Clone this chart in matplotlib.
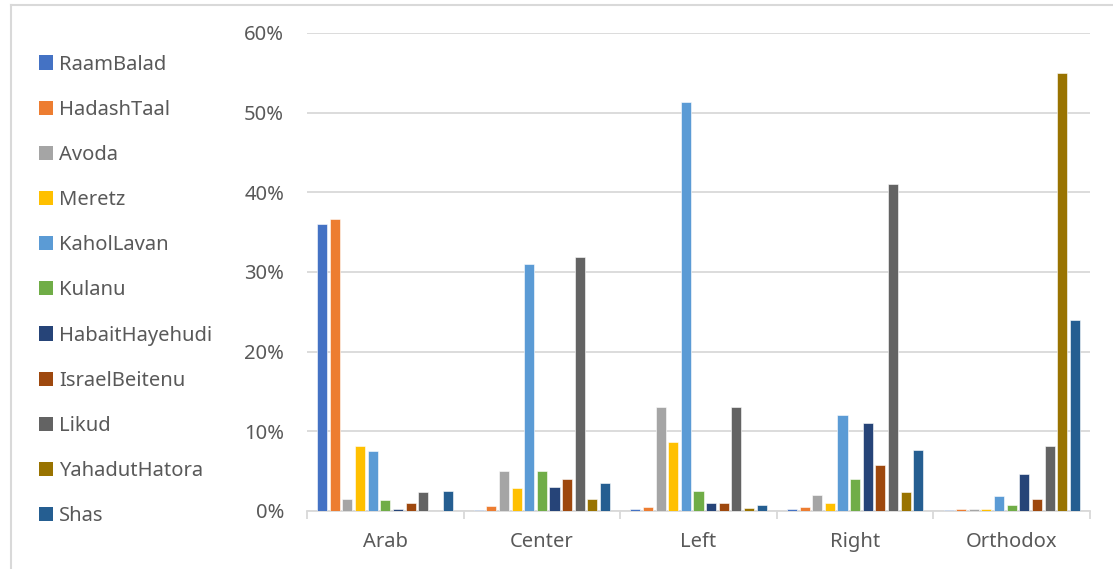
import matplotlib
matplotlib.use('Agg')
import matplotlib.pyplot as plt
import numpy as np
from matplotlib.patches import Patch
from matplotlib.lines import Line2D
from matplotlib.ticker import FuncFormatter, FixedLocator

plt.rcParams['font.family'] = ['Noto Sans', 'DejaVu Sans']

groups = ['Arab', 'Center', 'Left', 'Right', 'Orthodox']
parties = ['RaamBalad', 'HadashTaal', 'Avoda', 'Meretz', 'KaholLavan', 'Kulanu',
           'HabaitHayehudi', 'IsraelBeitenu', 'Likud', 'YahadutHatora', 'Shas']
colors = ['#4472C4', '#ED7D31', '#A5A5A5', '#FFC000', '#5B9BD5', '#70AD47',
          '#264478', '#9E480E', '#636363', '#997300', '#255E91']

# share of votes per party (fraction), one list per group
arab = [0.360, 0.366, 0.015, 0.081, 0.075, 0.014, 0.003, 0.010, 0.024, 0.000, 0.025]
center = [0.001, 0.006, 0.050, 0.029, 0.310, 0.050, 0.030, 0.040, 0.319, 0.015, 0.035]
left = [0.002, 0.005, 0.130, 0.086, 0.514, 0.025, 0.010, 0.010, 0.130, 0.004, 0.008]
right = [0.002, 0.005, 0.020, 0.010, 0.120, 0.040, 0.110, 0.058, 0.410, 0.024, 0.076]
orthodox = [0.001, 0.003, 0.003, 0.003, 0.019, 0.007, 0.046, 0.015, 0.081, 0.550, 0.240]

data = np.array([arab, center, left, right, orthodox])

txt = '#595959'
grid = '#D9D9D9'
fs = 14.5

fig = plt.figure(figsize=(11.13, 5.69), dpi=100)
ax = fig.add_axes([307/1113, 1 - 511/569, 783/1113, 478/569])

slot = 0.0805
bw = 0.064
x = np.arange(len(groups)) + 0.5
for j, p in enumerate(parties):
    ax.bar(x + (j - 5) * slot, data[:, j], bw, color=colors[j],
           edgecolor='white', linewidth=0.4, label=p, zorder=3)

ax.set_xlim(0, 5)
ax.set_ylim(0, 0.6)
ax.set_yticks(np.arange(0, 0.61, 0.1))
ax.yaxis.set_major_formatter(FuncFormatter(lambda v, _: '%d%%' % round(v * 100)))
ax.grid(axis='y', color=grid, linewidth=1.3, zorder=0)

ax.xaxis.set_major_locator(FixedLocator(np.arange(0, 6)))
ax.xaxis.set_minor_locator(FixedLocator(x))
ax.set_xticklabels([])
ax.set_xticklabels(groups, minor=True)
ax.tick_params(axis='x', which='major', length=6, color=grid, width=1.3, direction='out')
ax.tick_params(axis='x', which='minor', length=0, pad=15, labelsize=fs, labelcolor=txt)
ax.tick_params(axis='y', length=0, pad=16.5, labelsize=fs, labelcolor=txt)

for s in ['top', 'right', 'left']:
    ax.spines[s].set_visible(False)
ax.spines['bottom'].set_color(grid)
ax.spines['bottom'].set_linewidth(1.3)

handles = [Patch(facecolor=c) for c in colors]
leg = fig.legend(handles, parties, loc='upper left', bbox_to_anchor=(39/1113, 1 - 54.5/569),
                 frameon=False, fontsize=fs, handlelength=0.7, handleheight=0.7,
                 handletextpad=0.3, labelspacing=1.25, borderpad=0, borderaxespad=0)
for t in leg.get_texts():
    t.set_color(txt)

# chart frame (clipped by the image edge on right and bottom)
fig.add_artist(Line2D([11/1113, 11/1113], [1 - 5/569, 0], color=grid, lw=1.5))
fig.add_artist(Line2D([11/1113, 1], [1 - 5/569, 1 - 5/569], color=grid, lw=1.5))

fig.savefig('out.png', dpi=100)
